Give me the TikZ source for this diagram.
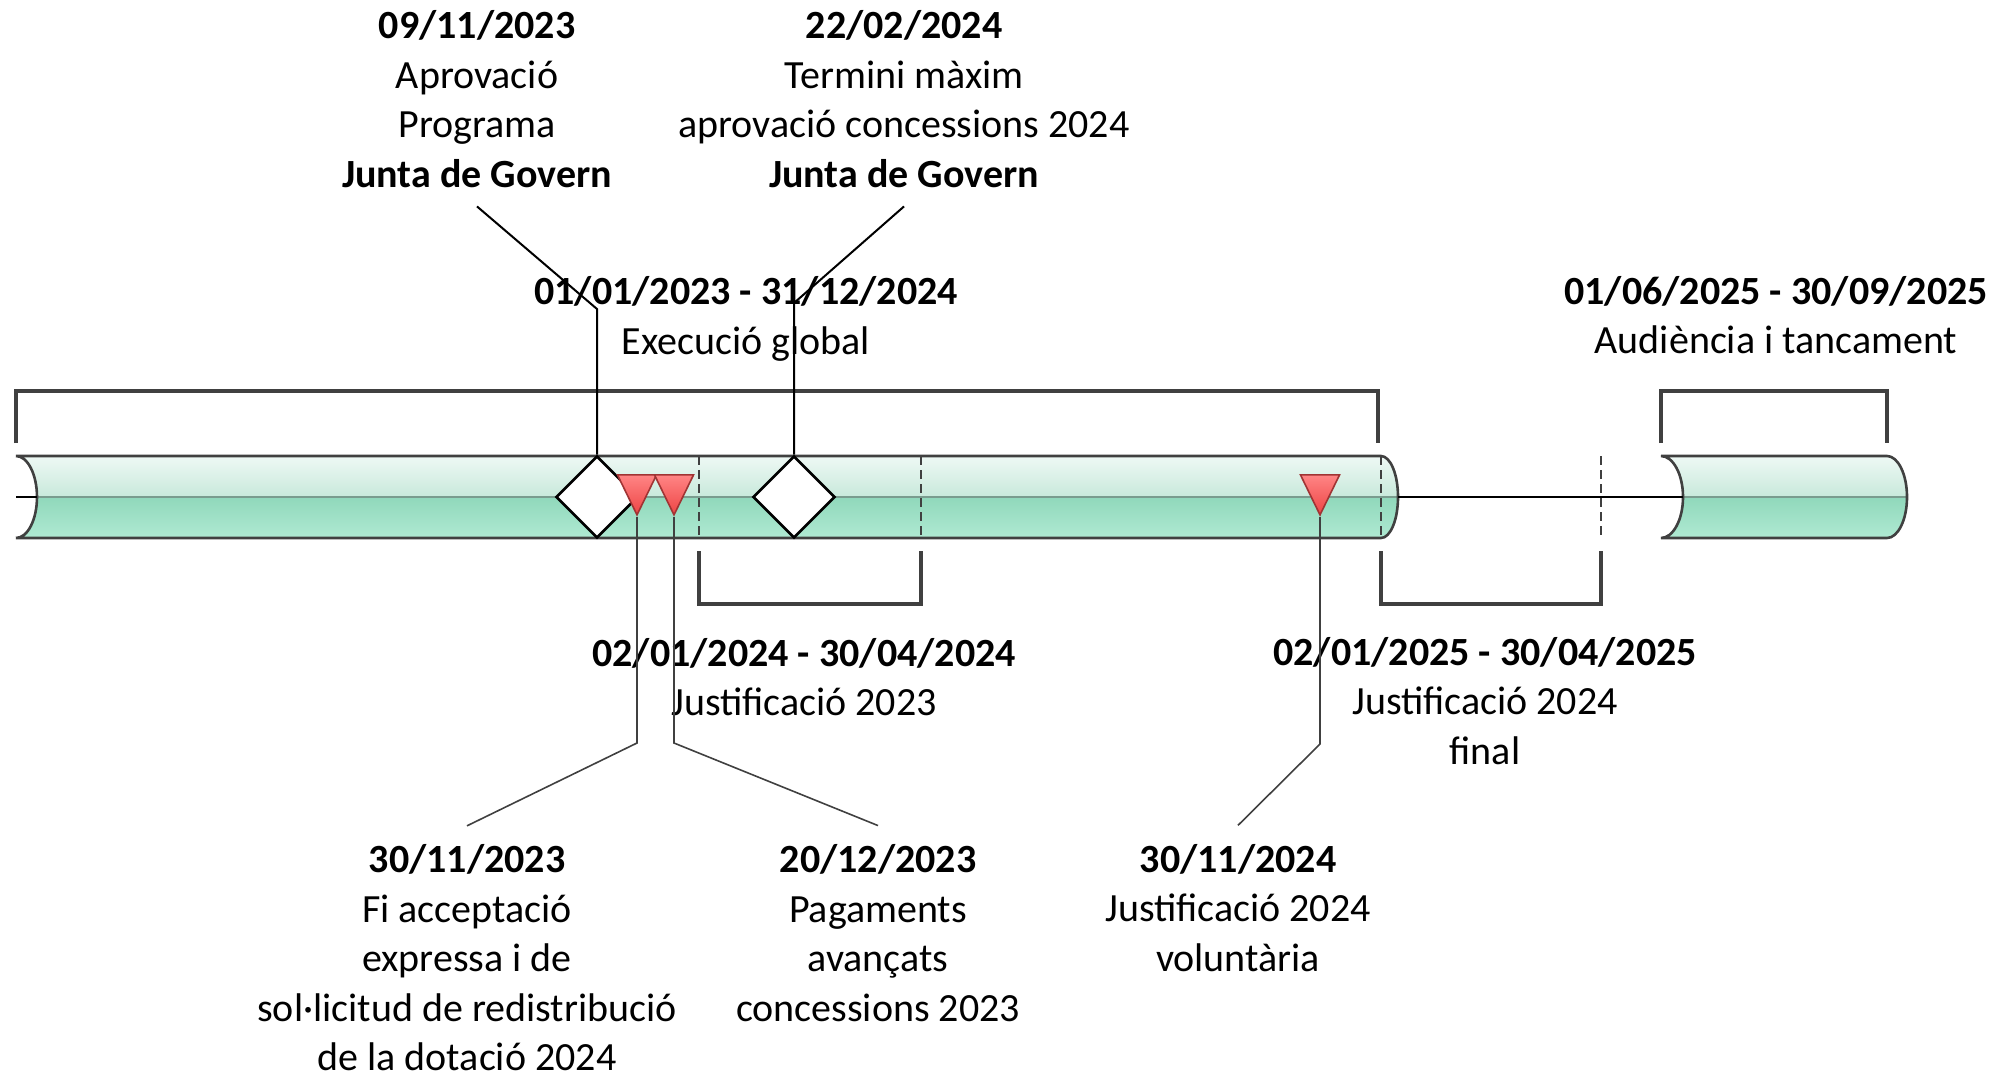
\documentclass[tikz,border=0pt]{standalone}
\usepackage{fontspec}
\setmainfont{Carlito}
\usetikzlibrary{shapes.geometric}
\definecolor{tubetop}{HTML}{EFF9F5}
\definecolor{tubemidt}{HTML}{C8E9DB}
\definecolor{tubemidb}{HTML}{90D8BB}
\definecolor{tubebot}{HTML}{B0EAD3}
\definecolor{tubeaxis}{HTML}{7A9C8E}
\definecolor{edge}{HTML}{404040}
\definecolor{redtop}{HTML}{FF8585}
\definecolor{redbot}{HTML}{EE4444}
\definecolor{redline}{HTML}{A03434}
\newcommand{\bodyone}{(16,456) -- (1381,456) .. controls (1390.4,456) and (1398,474.4) .. (1398,497)
  .. controls (1398,519.6) and (1390.4,538) .. (1381,538) -- (16,538)
  .. controls (27.6,538) and (37,519.6) .. (37,497) .. controls (37,474.4) and (27.6,456) .. (16,456) -- cycle}
\newcommand{\bodytwo}{(1661,456) -- (1887,456) .. controls (1898,456) and (1907,474.4) .. (1907,497)
  .. controls (1907,519.6) and (1898,538) .. (1887,538) -- (1661,538)
  .. controls (1673.1,538) and (1683,519.6) .. (1683,497) .. controls (1683,474.4) and (1673.1,456) .. (1661,456) -- cycle}
\begin{document}
\begin{tikzpicture}[x=0.5pt,y=-0.5pt,
  upper/.style={top color=tubetop, bottom color=tubemidt},
  lower/.style={top color=tubemidb, bottom color=tubebot},
  rim/.style={draw=edge, line width=1.3pt},
  cut/.style={draw=edge, line width=1.2pt, dash pattern=on 4.5pt off 2.5pt},
  brace/.style={draw=edge, line width=2pt},
  gate/.style={diamond, draw=black, fill=white, line width=1.3pt, minimum width=41pt, minimum height=41pt, inner sep=0pt},
  flag/.style={isosceles triangle, shape border rotate=270, isosceles triangle stretches, minimum width=19.5pt, minimum height=20pt, inner sep=0pt, draw=redline, top color=redtop, bottom color=redbot, line width=0.8pt},
  note/.style={align=center, inner sep=0pt, outer sep=9.5pt, font=\fontsize{20}{24.75}\selectfont},
  lead/.style={draw=black, line width=1pt},
  leadg/.style={draw=edge, line width=0.8pt}]
\useasboundingbox (0,0) rectangle (2016,1077);

\begin{scope}
\clip \bodyone;
\shade[upper] (0,455) rectangle (1420,497);
\shade[lower] (0,497) rectangle (1420,539);
\end{scope}
\begin{scope}
\clip \bodytwo;
\shade[upper] (1640,455) rectangle (1920,497);
\shade[lower] (1640,497) rectangle (1920,539);
\end{scope}
\path[draw=tubeaxis, line width=0.6pt] (37,497) -- (1398,497);
\path[draw=tubeaxis, line width=0.6pt] (1683,497) -- (1907,497);
\path[rim] \bodyone;
\path[rim] \bodytwo;
\path[draw=black, line width=1pt] (16,497) -- (37,497);
\path[draw=black, line width=1.2pt] (1398,497) -- (1683,497);

\path[cut] (699,456) -- (699,538);
\path[cut] (921,456) -- (921,538);
\path[cut] (1381,456) -- (1381,538);
\path[cut] (1601,456) -- (1601,538);

\path[brace] (16,443) -- (16,391) -- (1378,391) -- (1378,443);
\path[brace] (1661,443) -- (1661,391) -- (1887,391) -- (1887,443);
\path[brace] (699,551) -- (699,604) -- (921,604) -- (921,551);
\path[brace] (1381,551) -- (1381,604) -- (1601,604) -- (1601,551);

\node[gate] (m1) at (597,497) {};
\node[gate] (m2) at (794,497) {};
\node[flag, anchor=apex] (t1) at (637,517) {};
\node[flag, anchor=apex] (t2) at (674,517) {};
\node[flag, anchor=apex] (t3) at (1320,517) {};

\node[note] (j1) at (477,99) {\textbf{09/11/2023}\\Aprovació\\Programa\\\textbf{Junta de Govern}};
\node[note] (j2) at (904,99) {\textbf{22/02/2024}\\Termini màxim\\aprovació concessions 2024\\\textbf{Junta de Govern}};
\node[note] (p1) at (746,319) {\textbf{01/01/2023 - 31/12/2024}\\Execució global};
\node[note] (p4) at (1776,315) {\textbf{01/06/2025 - 30/09/2025}\\Audiència i tancament};
\node[note] (p2) at (804,677) {\textbf{02/01/2024 - 30/04/2024}\\Justificació 2023};
\node[note] (p3) at (1485,701) {\textbf{02/01/2025 - 30/04/2025}\\Justificació 2024\\final};
\node[note] (f1) at (467,958) {\textbf{30/11/2023}\\Fi acceptació\\expressa i de\\sol·licitud de redistribució\\de la dotació 2024};
\node[note] (f2) at (878,933) {\textbf{20/12/2023}\\Pagaments\\avançats\\concessions 2023};
\node[note] (f3) at (1238,908) {\textbf{30/11/2024}\\Justificació 2024\\voluntària};

\coordinate (k1) at (597,309);
\coordinate (k2) at (794,303);
\coordinate (k3) at (637,743);
\coordinate (k4) at (674,743);
\coordinate (k5) at (1320,744);

\path[lead] (m1.north) -- (k1) -- (j1.south);
\path[lead] (m2.north) -- (k2) -- (j2.south);
\path[leadg] (t1.apex) -- (k3) -- (f1.north);
\path[leadg] (t2.apex) -- (k4) -- (f2.north);
\path[leadg] (t3.apex) -- (k5) -- (f3.north);
\end{tikzpicture}
\end{document}
